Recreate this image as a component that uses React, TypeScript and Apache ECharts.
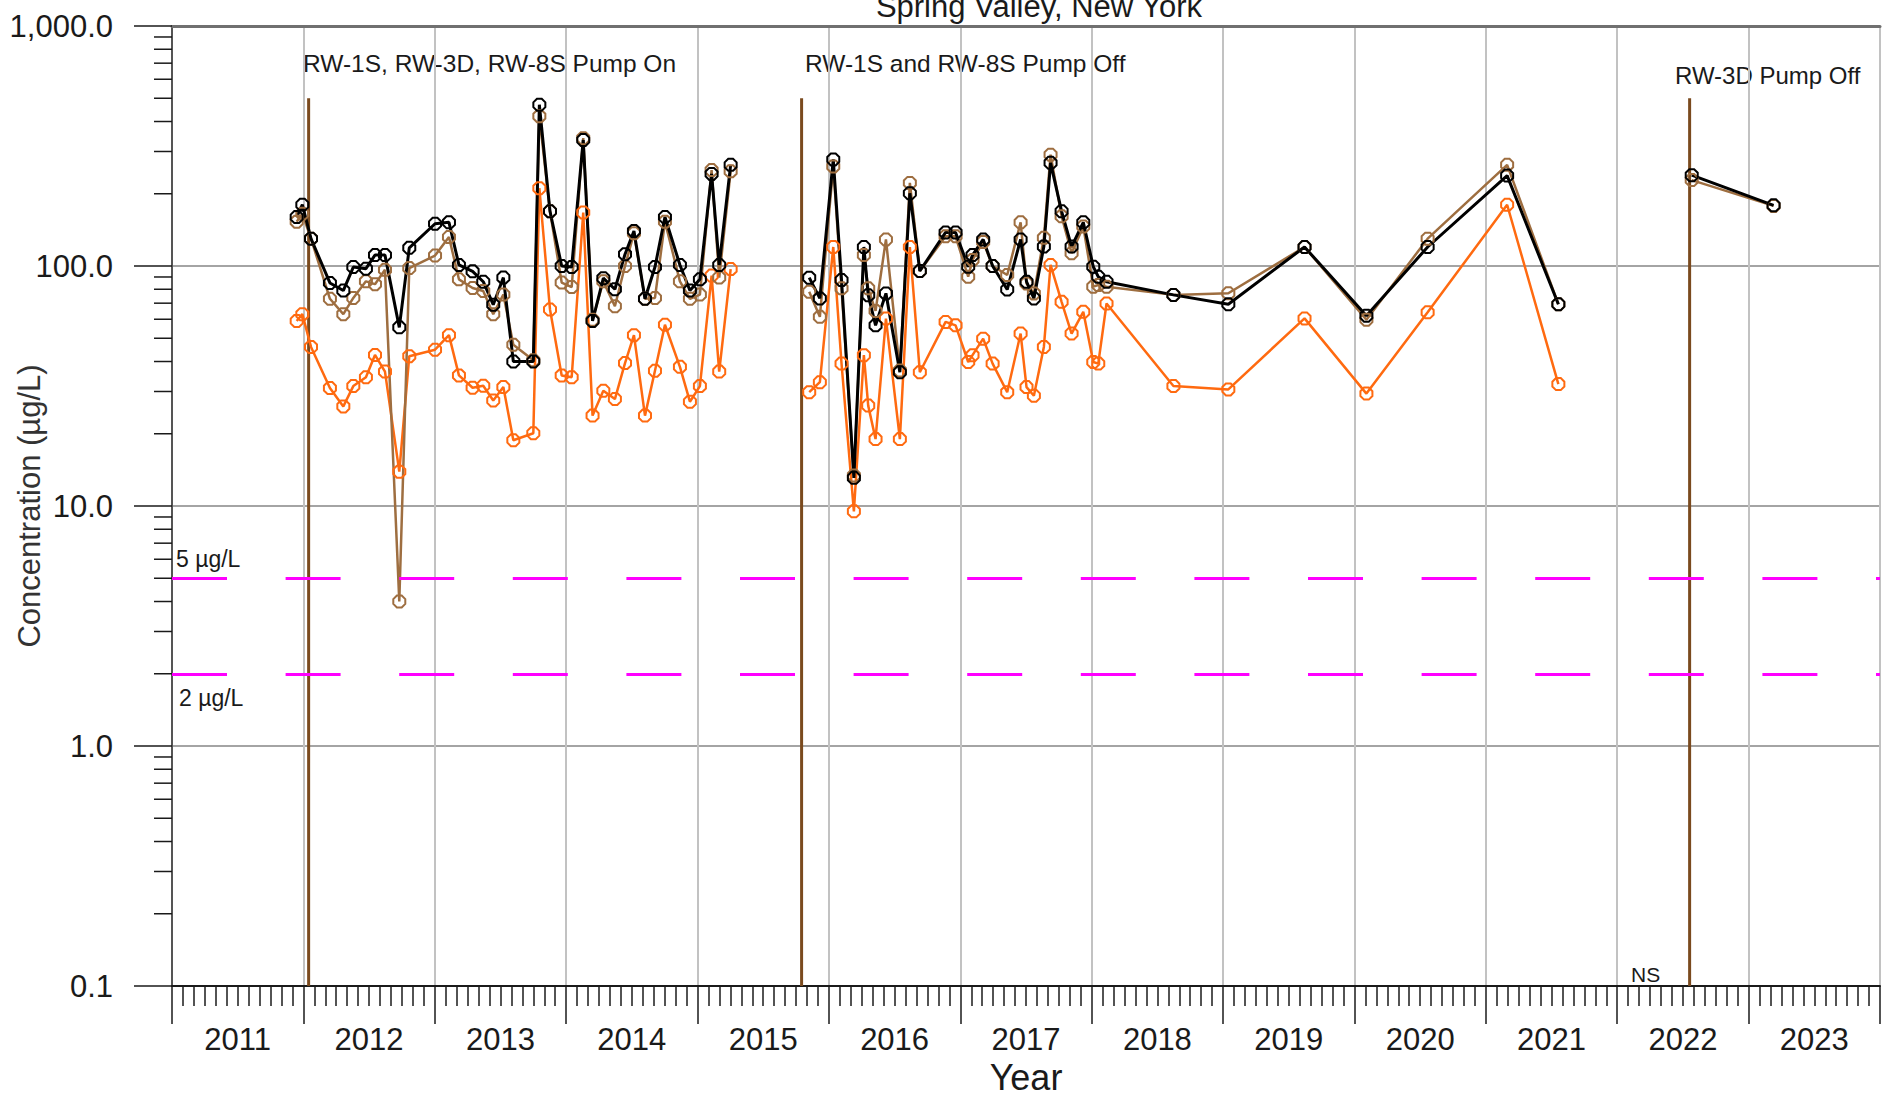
import React, { useEffect, useRef } from "react";
import * as echarts from "echarts";

const FONT = "'Liberation Sans', Arial, sans-serif";
const TEXT = "#1a1a1a";

// ---- data (dates as decimal years) ----
const sampleDates = [
  2011.949, 2011.992, 2012.058, 2012.202, 2012.304, 2012.38, 2012.476, 2012.545, 2012.621, 2012.73, 2012.806,
  2013.002, 2013.108, 2013.184, 2013.288, 2013.369, 2013.445, 2013.522, 2013.598, 2013.75, 2013.796, 2013.877, 2013.966,
  2014.042, 2014.13, 2014.201, 2014.283, 2014.371, 2014.448, 2014.516, 2014.6, 2014.676, 2014.752, 2014.866, 2014.942,
  2015.018, 2015.107, 2015.165, 2015.252,
  2015.85, 2015.931, 2016.033, 2016.096, 2016.19, 2016.266, 2016.299, 2016.355, 2016.434, 2016.54, 2016.616, 2016.692, 2016.888, 2016.964,
  2017.06, 2017.093, 2017.174, 2017.246, 2017.357, 2017.459, 2017.504, 2017.56, 2017.636, 2017.687, 2017.771, 2017.847, 2017.936,
  2018.012, 2018.05, 2018.113,
  2018.622, 2019.04, 2019.62, 2020.091, 2020.557, 2021.162, 2021.552,
  2022.567, 2023.19,
];

const blackSeries = [
  160, 180, 130, 85, 79, 99, 97.5, 111, 111, 55.5, 119,
  150, 152, 101, 95, 86, 69, 89.5, 40, 40, 470, 169, 100,
  99, 335, 59, 89, 80, 112, 140, 73, 99, 160, 101, 79,
  88, 242, 101, 264,
  89.4, 73.3, 278, 87.4, 13.1, 120, 75.6, 56.6, 76.9, 36.1, 201, 95.3, 138, 138,
  99.4, 111, 129, 100, 79.8, 129, 86, 73.3, 120.5, 269, 169, 120.5, 152,
  99.4, 90.2, 86,
  75.8, 69.3, 120, 62.1, 120, 238, 69.3,
  239, 179,
];

const brownSeries = [
  153, 165, 130, 73, 63, 73.6, 86.3, 84, 96.4, 4.0, 98,
  110.5, 132, 88, 81, 78.7, 63, 76, 47, 40.5, 421, 169, 85.3,
  81.7, 341, 59.7, 86.3, 68, 100, 137, 73, 73.6, 153, 86.3, 73,
  76, 251, 89.5, 248,
  78.1, 61.4, 260, 80.7, 13.4, 111, 80.7, 65, 129, 36.7, 222, 95.3, 133, 133,
  90.2, 106, 126, 100, 91.7, 152, 84.6, 76.9, 131, 291, 161, 113, 146,
  82, 83.3, 82,
  75.8, 77, 120, 59.7, 130, 264, 69.3,
  228, 178,
];

const orangeSeries: (number | null)[] = [
  59, 63, 46, 31, 26, 31.6, 34.4, 42.6, 36.3, 13.9, 42.1,
  44.8, 51.5, 35, 31.1, 31.7, 27.5, 31.3, 18.8, 20.1, 211, 65.9, 35,
  34.4, 167, 23.8, 30.2, 27.9, 39.4, 51.5, 23.8, 36.6, 56.9, 38, 27.2,
  31.6, 91.2, 36.3, 97.1,
  29.8, 32.8, 120, 39.2, 9.5, 42.5, 26.2, 19, 60.4, 19, 120, 36.1, 58.5, 56.6,
  39.8, 42.5, 49.8, 39.2, 29.8, 52.3, 31.3, 28.8, 46, 101, 70.9, 52.3, 64.4,
  39.8, 39.2, 69.8,
  31.6, 30.6, 60.5, 29.4, 64.1, 180, 32.2,
  null, null,
];

// breaks in the record (no line drawn across)
const gapDates = [2015.5, 2022.0];

const yearLabels = [2011, 2012, 2013, 2014, 2015, 2016, 2017, 2018, 2019, 2020, 2021, 2022, 2023];
const xMin = 2011;
const xMax = 2024;
const yMin = 0.1;
const yMax = 1000;
const yDecades = [0.1, 1, 10, 100];
const yMinorSteps = [2, 3, 4, 5, 6, 7, 8, 9];

const pumpEventDates = [2012.04, 2015.792, 2022.551];
const pumpEventTop = 500;
const pumpEventLabels = ["RW-1S, RW-3D, RW-8S Pump On", "RW-1S and RW-8S Pump Off", "RW-3D Pump Off"];

const thresholds = [5, 2];
const thresholdLabels = ["5 µg/L", "2 µg/L"];

const title = "Spring Valley, New York";

function buildLine(values: (number | null)[]) {
  const pts: any[] = sampleDates.map((d, i) => [d, values[i] == null ? "-" : values[i]]);
  gapDates.forEach((g) => pts.push([g, "-"]));
  pts.sort((a, b) => a[0] - b[0]);
  return pts;
}

const OCTAGON = "path://M3,0 L7,0 L10,3 L10,7 L7,10 L3,10 L0,7 L0,3 Z";

function dataSeries(name: string, values: (number | null)[], color: string, width: number, z: number) {
  return {
    name,
    type: "line",
    data: buildLine(values),
    symbol: OCTAGON,
    symbolSize: 12,
    showAllSymbol: true,
    connectNulls: false,
    z,
    lineStyle: { color, width },
    itemStyle: { color: "rgba(255,255,255,0)", borderColor: color, borderWidth: 2 },
    emphasis: { disabled: true },
  };
}

export default function App() {
  const ref = useRef<HTMLDivElement>(null);

  useEffect(() => {
    if (!ref.current) return;
    const chart = echarts.init(ref.current, null, { renderer: "svg" });

    const pumpData: any[] = [];
    pumpEventDates.forEach((d) => {
      pumpData.push([d, yMin]);
      pumpData.push([d, pumpEventTop]);
      pumpData.push([d + 0.001, "-"]);
    });

    const minorTicks: any[] = [];
    yDecades.forEach((dec) => yMinorSteps.forEach((k) => minorTicks.push([xMin, +(k * dec).toPrecision(3)])));

    const fmtY = (v: number) =>
      Number(v).toLocaleString("en-US", { minimumFractionDigits: 1, maximumFractionDigits: 1 });

    const option: any = {
      animation: false,
      backgroundColor: "#ffffff",
      textStyle: { fontFamily: FONT },
      grid: { left: 172, right: 3, top: 26, bottom: 112, outerBoundsMode: "none", containLabel: false },
      xAxis: [
        {
          type: "value",
          min: xMin,
          max: xMax,
          interval: 1,
          position: "bottom",
          name: "Year",
          nameLocation: "middle",
          nameGap: 73,
          nameMoveOverlap: false,
          nameTextStyle: { fontSize: 36, color: TEXT, fontFamily: FONT },
          axisLine: { show: true, onZero: false, lineStyle: { color: TEXT, width: 2 } },
          axisTick: { show: true, length: 38, lineStyle: { color: TEXT, width: 1.5 } },
          minorTick: { show: true, splitNumber: 12, length: 20, lineStyle: { color: TEXT, width: 1.5 } },
          splitLine: { show: true, lineStyle: { color: "#c2c2c2", width: 2 } },
          axisLabel: {
            customValues: yearLabels.map((y) => y + 0.5),
            formatter: (v: number) => String(Math.floor(v)),
            fontSize: 31,
            margin: 38,
            color: TEXT,
            fontFamily: FONT,
          },
        },
        {
          type: "value",
          min: xMin,
          max: xMax,
          position: "top",
          axisLine: { show: true, lineStyle: { color: "#707070", width: 3 } },
          axisTick: { show: false },
          axisLabel: { show: false },
          splitLine: { show: false },
        },
      ],
      yAxis: {
        type: "log",
        logBase: 10,
        min: yMin,
        max: yMax,
        name: "Concentration (µg/L)",
        nameLocation: "middle",
        nameGap: 127,
        nameMoveOverlap: false,
        nameTextStyle: { fontSize: 31, color: "#333", fontFamily: FONT },
        axisLine: { show: true, lineStyle: { color: "#555", width: 2 } },
        axisTick: { show: true, length: 38, lineStyle: { color: TEXT, width: 1.5 } },
        splitLine: { show: true, lineStyle: { color: "#a4a4a4", width: 2 } },
        axisLabel: { formatter: fmtY, fontSize: 31, margin: 59, color: TEXT, fontFamily: FONT },
      },
      series: [
        {
          name: "y minor ticks",
          type: "custom",
          clip: false,
          silent: true,
          z: 4,
          data: minorTicks,
          renderItem: (_p: any, api: any) => {
            const pt = api.coord([api.value(0), api.value(1)]);
            return {
              type: "line",
              shape: { x1: pt[0] - 18, y1: pt[1], x2: pt[0], y2: pt[1] },
              style: { stroke: TEXT, lineWidth: 1.5 },
            };
          },
        },
        {
          name: "thresholds",
          type: "line",
          data: [],
          z: 2,
          markLine: {
            silent: true,
            symbol: "none",
            label: { show: false },
            lineStyle: { color: "#ff00ff", width: 3, type: [55, 58.6], opacity: 1 },
            data: thresholds.map((v) => ({ yAxis: v })),
          },
        },
        {
          name: "pump events",
          type: "line",
          data: pumpData,
          showSymbol: false,
          symbol: "none",
          connectNulls: false,
          z: 2,
          lineStyle: { color: "#7a4a1e", width: 3 },
          emphasis: { disabled: true },
        },
        dataSeries("orange", orangeSeries, "#ff6a10", 2.5, 3),
        dataSeries("brown", brownSeries, "#9e6e40", 2.5, 3),
        dataSeries("black", blackSeries, "#000000", 3, 3),
      ],
      graphic: [
        {
          type: "text",
          x: 1039,
          y: 6,
          style: { text: title, fontSize: 31, fontFamily: FONT, fill: TEXT, align: "center", verticalAlign: "middle" },
        },
        {
          type: "text",
          x: 303,
          y: 63,
          style: { text: pumpEventLabels[0], fontSize: 24.5, fontFamily: FONT, fill: TEXT, align: "left", verticalAlign: "middle" },
        },
        {
          type: "text",
          x: 805,
          y: 63,
          style: { text: pumpEventLabels[1], fontSize: 24.5, fontFamily: FONT, fill: TEXT, align: "left", verticalAlign: "middle" },
        },
        {
          type: "text",
          x: 1675,
          y: 75,
          style: { text: pumpEventLabels[2], fontSize: 24, fontFamily: FONT, fill: TEXT, align: "left", verticalAlign: "middle" },
        },
        {
          type: "text",
          x: 176,
          y: 559,
          style: { text: thresholdLabels[0], fontSize: 23, fontFamily: FONT, fill: TEXT, align: "left", verticalAlign: "middle" },
        },
        {
          type: "text",
          x: 179,
          y: 698,
          style: { text: thresholdLabels[1], fontSize: 23, fontFamily: FONT, fill: TEXT, align: "left", verticalAlign: "middle" },
        },
        {
          type: "text",
          x: 1631,
          y: 974,
          style: { text: "NS", fontSize: 21, fontFamily: FONT, fill: TEXT, align: "left", verticalAlign: "middle" },
        },
      ],
    };

    chart.setOption(option);
    return () => chart.dispose();
  }, []);

  return (
    <div
      ref={ref}
      style={{ position: "fixed", left: 0, top: 0, width: 1883, height: 1098, background: "#fff" }}
    />
  );
}
